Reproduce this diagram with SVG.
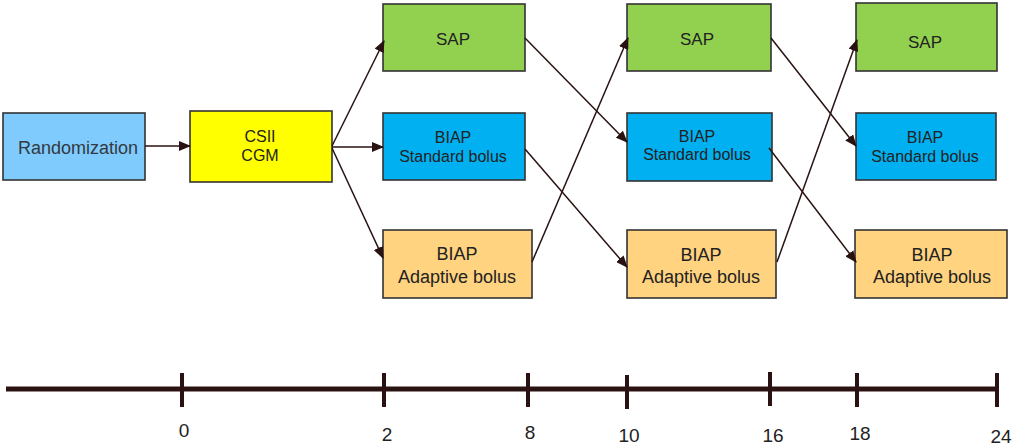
<svg xmlns="http://www.w3.org/2000/svg" width="1013" height="446" viewBox="0 0 1013 446">
<defs>
<marker id="ah" markerUnits="userSpaceOnUse" markerWidth="12" markerHeight="10" refX="11" refY="5" orient="auto">
<path d="M0,0 L12,5 L0,10 z" fill="#2a1212"/>
</marker>
<style>
.box{stroke:#333;stroke-width:1.6}
.rnd{fill:#7fcbfd}
.csii{fill:#ffff00}
.sap{fill:#92d050}
.std{fill:#00b0f0}
.adp{fill:#ffd37f}
text{font-family:"Liberation Sans",Arial,sans-serif;fill:#222;text-anchor:middle}
.f16{font-size:16px}
.f17{font-size:17px}
.f18{font-size:18px}
.conn line{stroke:#2a1212;stroke-width:1.5;marker-end:url(#ah)}
.axis line{stroke:#2a1212;stroke-width:4}
.axis line.main{stroke-width:5}
.tick{font-size:19px}
</style>
</defs>
<rect width="1013" height="446" fill="#fff"/>
<g id="randomization"><rect class="box rnd" x="3" y="113" width="142" height="67"/><text class="f18" x="78" y="154" style="fill:#33393f">Randomization</text></g>
<g id="csii"><rect class="box csii" x="190" y="111" width="142" height="71"/><text class="f16" x="260" y="142">CSII</text><text class="f16" x="260" y="161">CGM</text></g>
<g id="sap1"><rect class="box sap" x="383" y="4" width="142" height="67"/><text class="f17" x="453" y="45">SAP</text></g>
<g id="std1"><rect class="box std" x="383" y="113" width="142" height="67"/><text class="f16" x="453" y="143">BIAP</text><text class="f16" x="453" y="162">Standard bolus</text></g>
<g id="adp1"><rect class="box adp" x="383" y="230" width="149" height="68"/><text class="f18" x="457" y="260">BIAP</text><text class="f18" x="457" y="283">Adaptive bolus</text></g>
<g id="sap2"><rect class="box sap" x="627" y="4" width="144" height="67"/><text class="f17" x="697" y="45">SAP</text></g>
<g id="std2"><rect class="box std" x="627" y="113" width="145" height="68"/><text class="f16" x="697" y="142">BIAP</text><text class="f16" x="697" y="160">Standard bolus</text></g>
<g id="adp2"><rect class="box adp" x="627" y="230" width="149" height="68"/><text class="f18" x="701" y="261">BIAP</text><text class="f18" x="701" y="283">Adaptive bolus</text></g>
<g id="sap3"><rect class="box sap" x="856" y="3" width="141" height="68"/><text class="f17" x="925" y="48">SAP</text></g>
<g id="std3"><rect class="box std" x="856" y="113" width="140" height="67"/><text class="f16" x="925" y="143">BIAP</text><text class="f16" x="925" y="162">Standard bolus</text></g>
<g id="adp3"><rect class="box adp" x="855" y="230" width="152" height="68"/><text class="f18" x="932" y="261">BIAP</text><text class="f18" x="932" y="283">Adaptive bolus</text></g>
<g id="connectors" class="conn">
<line x1="145" y1="146" x2="190" y2="146"/>
<line x1="332" y1="146" x2="384" y2="41"/>
<line x1="332" y1="147" x2="383" y2="147"/>
<line x1="332" y1="148" x2="383" y2="258"/>
<line x1="525" y1="38" x2="627" y2="142"/>
<line x1="525" y1="149" x2="627" y2="267"/>
<line x1="532" y1="262" x2="628" y2="38"/>
<line x1="771" y1="38" x2="856" y2="146"/>
<line x1="769" y1="148" x2="856" y2="262"/>
<line x1="777" y1="262" x2="857" y2="40"/>
</g>
<g id="timeline" class="axis">
<line class="main" x1="6" y1="389" x2="997" y2="389"/>
<line x1="182" y1="373" x2="182" y2="407"/>
<line x1="384" y1="373" x2="384" y2="407"/>
<line x1="528" y1="373" x2="528" y2="407"/>
<line x1="627" y1="375" x2="627" y2="409"/>
<line x1="770" y1="372" x2="770" y2="406"/>
<line x1="857" y1="373" x2="857" y2="407"/>
<line x1="997" y1="373" x2="997" y2="407"/>
<text class="tick" x="184" y="437">0</text>
<text class="tick" x="387" y="441">2</text>
<text class="tick" x="530" y="439">8</text>
<text class="tick" x="629" y="442">10</text>
<text class="tick" x="773" y="442">16</text>
<text class="tick" x="860" y="440">18</text>
<text class="tick" x="1001" y="443">24</text>
</g>
</svg>
